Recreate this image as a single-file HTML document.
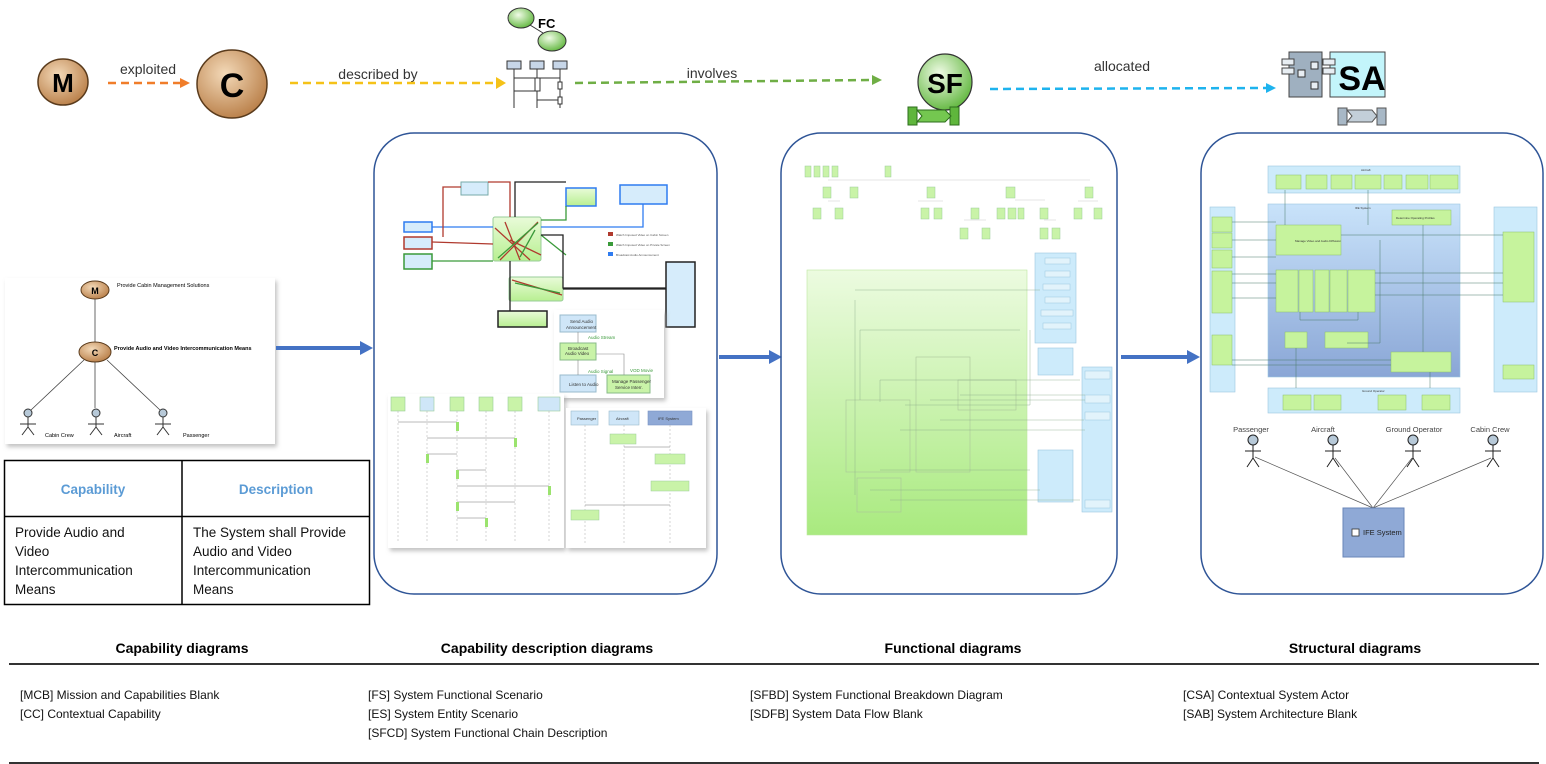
<!DOCTYPE html>
<html><head><meta charset="utf-8"><style>
html,body{margin:0;padding:0;background:#fff;width:1546px;height:764px;overflow:hidden}
svg{display:block}
text{font-family:"Liberation Sans",sans-serif}
</style></head><body>
<svg width="1546" height="764" viewBox="0 0 1546 764" xmlns="http://www.w3.org/2000/svg">
<defs>
<radialGradient id="br" cx="40%" cy="35%" r="70%"><stop offset="0" stop-color="#f3d9b8"/><stop offset="1" stop-color="#b87d46"/></radialGradient>
<radialGradient id="gr" cx="40%" cy="35%" r="70%"><stop offset="0" stop-color="#f0fbe6"/><stop offset="1" stop-color="#5fb63c"/></radialGradient>
<linearGradient id="gbox" x1="0" y1="0" x2="0" y2="1"><stop offset="0" stop-color="#e9fbd9"/><stop offset="1" stop-color="#b8ef91"/></linearGradient>
<linearGradient id="ifeg" x1="0" y1="0" x2="0" y2="1"><stop offset="0" stop-color="#c9e3fa"/><stop offset="1" stop-color="#8aa6d6"/></linearGradient>
<linearGradient id="bigg" x1="0" y1="0" x2="0" y2="1"><stop offset="0" stop-color="#ecfbe0"/><stop offset="1" stop-color="#a9ea7f"/></linearGradient>
<filter id="sh"><feDropShadow dx="2" dy="3" stdDeviation="2" flood-color="#999" flood-opacity=".6"/></filter>
</defs>

<!-- top row -->
<ellipse cx="63" cy="82" rx="25" ry="23" fill="url(#br)" stroke="#5a3b1c" stroke-width="1.5"/>
<text x="63" y="92" font-size="26" font-weight="bold" text-anchor="middle">M</text>
<text x="148" y="74" font-size="14" text-anchor="middle" fill="#333">exploited</text>
<line x1="108" y1="83" x2="182" y2="83" stroke="#f07d2a" stroke-width="2.5" stroke-dasharray="8,5"/>
<polygon points="180,78 190,83 180,88" fill="#f07d2a"/>
<ellipse cx="232" cy="84" rx="35" ry="34" fill="url(#br)" stroke="#5a3b1c" stroke-width="1.5"/>
<text x="232" y="97" font-size="34" font-weight="bold" text-anchor="middle">C</text>
<text x="378" y="79" font-size="14" text-anchor="middle" fill="#333">described by</text>
<line x1="290" y1="83" x2="497" y2="83" stroke="#f5c218" stroke-width="2.5" stroke-dasharray="8,5"/>
<polygon points="496,77 506,83 496,89" fill="#f5c218"/>
<ellipse cx="521" cy="18" rx="13" ry="10" fill="url(#gr)" stroke="#333"/>
<ellipse cx="552" cy="41" rx="14" ry="10" fill="url(#gr)" stroke="#333"/>
<line x1="530" y1="25" x2="543" y2="33" stroke="#333"/>
<text x="538" y="28" font-size="13" font-weight="bold">FC</text>
<g stroke="#333" fill="#c7d6e8">
<rect x="507" y="61" width="14" height="8"/><rect x="530" y="61" width="14" height="8"/><rect x="553" y="61" width="14" height="8"/>
<line x1="514" y1="69" x2="514" y2="108"/><line x1="537" y1="69" x2="537" y2="108"/><line x1="560" y1="69" x2="560" y2="108"/>
<line x1="514" y1="78" x2="560" y2="78"/><line x1="514" y1="91" x2="537" y2="91"/><line x1="537" y1="100" x2="560" y2="100"/>
<rect x="535" y="78" width="5" height="13" fill="#fff"/><rect x="558" y="82" width="4" height="7" fill="#fff"/><rect x="558" y="97" width="4" height="7" fill="#fff"/>
</g>
<text x="712" y="78" font-size="14" text-anchor="middle" fill="#333">involves</text>
<line x1="575" y1="83" x2="872" y2="80" stroke="#6fae45" stroke-width="2.5" stroke-dasharray="8,5"/>
<polygon points="872,75 882,80 872,85" fill="#6fae45"/>
<ellipse cx="945" cy="82" rx="27" ry="28" fill="url(#gr)" stroke="#333" stroke-width="1.2"/>
<text x="945" y="93" font-size="28" font-weight="bold" text-anchor="middle">SF</text>
<rect x="908" y="107" width="9" height="18" fill="#5fb63c" stroke="#2d6e1c"/><rect x="950" y="107" width="9" height="18" fill="#5fb63c" stroke="#2d6e1c"/>
<polygon points="917,110 945,110 951,116 945,122 917,122 922,116" fill="#74c750" stroke="#2d6e1c"/>
<text x="1122" y="71" font-size="14" text-anchor="middle" fill="#333">allocated</text>
<line x1="990" y1="89" x2="1267" y2="88" stroke="#1eb3ee" stroke-width="2.5" stroke-dasharray="8,5"/>
<polygon points="1266,83 1276,88 1266,93" fill="#1eb3ee"/>
<rect x="1289" y="52" width="33" height="45" fill="#9fb0c0" stroke="#444"/>
<rect x="1282" y="59" width="12" height="6" fill="#e8eef3" stroke="#444"/><rect x="1282" y="68" width="12" height="6" fill="#e8eef3" stroke="#444"/>
<g fill="#e8eef3" stroke="#333"><rect x="1311" y="62" width="7" height="7"/><rect x="1298" y="70" width="7" height="7"/><rect x="1311" y="82" width="7" height="7"/></g>
<rect x="1330" y="52" width="55" height="45" fill="#c3f5fb" stroke="#444"/>
<rect x="1323" y="59" width="12" height="6" fill="#e8eef3" stroke="#444"/><rect x="1323" y="68" width="12" height="6" fill="#e8eef3" stroke="#444"/>
<text x="1362" y="90" font-size="34" font-weight="bold" text-anchor="middle">SA</text>
<rect x="1338" y="108" width="9" height="17" fill="#a8b8c6" stroke="#555"/><rect x="1377" y="108" width="9" height="17" fill="#a8b8c6" stroke="#555"/>
<polygon points="1347,110 1372,110 1377,116 1372,122 1347,122 1352,116" fill="#c3cfd9" stroke="#555"/>

<!-- capability image -->
<g filter="url(#sh)"><rect x="5" y="278" width="270" height="166" fill="#fff"/></g>
<ellipse cx="95" cy="290" rx="14" ry="9" fill="url(#br)" stroke="#5a3b1c"/><text x="95" y="294" font-size="9" font-weight="bold" text-anchor="middle">M</text>
<text x="117" y="287" font-size="5.5">Provide Cabin Management Solutions</text>
<line x1="95" y1="299" x2="95" y2="342" stroke="#444" stroke-width=".8"/>
<ellipse cx="95" cy="352" rx="16" ry="10" fill="url(#br)" stroke="#5a3b1c"/><text x="95" y="356" font-size="9" font-weight="bold" text-anchor="middle">C</text>
<text x="114" y="350" font-size="5.5" font-weight="bold">Provide Audio and Video Intercommunication Means</text>
<g stroke="#444" stroke-width=".8"><line x1="84" y1="360" x2="31" y2="410"/><line x1="95" y1="362" x2="95" y2="408"/><line x1="107" y1="360" x2="160" y2="410"/></g>
<g stroke="#333" fill="#b7c9d8">
<circle cx="28" cy="413" r="4"/><circle cx="96" cy="413" r="4"/><circle cx="163" cy="413" r="4"/>
<path d="M28 417v10M20 424h16M28 427l-6 8M28 427l6 8M96 417v10M88 424h16M96 427l-6 8M96 427l6 8M163 417v10M155 424h16M163 427l-6 8M163 427l6 8" fill="none"/>
</g>
<text x="45" y="437" font-size="5.5">Cabin Crew</text><text x="114" y="437" font-size="5.5">Aircraft</text><text x="183" y="437" font-size="5.5">Passenger</text>

<!-- table -->
<rect x="4.5" y="460.5" width="365" height="144" fill="#fff" stroke="#000" stroke-width="1.5"/>
<line x1="182" y1="460" x2="182" y2="605" stroke="#000" stroke-width="1.5"/>
<line x1="4" y1="516.5" x2="370" y2="516.5" stroke="#000" stroke-width="1.5"/>
<text x="93" y="494" font-size="13.5" font-weight="bold" fill="#5b9bd5" text-anchor="middle">Capability</text>
<text x="276" y="494" font-size="13.5" font-weight="bold" fill="#5b9bd5" text-anchor="middle">Description</text>
<g font-size="13.5" fill="#111"><text x="15" y="537">Provide Audio and</text><text x="15" y="556">Video</text><text x="15" y="575">Intercommunication</text><text x="15" y="594">Means</text>
<text x="193" y="537">The System shall Provide</text><text x="193" y="556">Audio and Video</text><text x="193" y="575">Intercommunication</text><text x="193" y="594">Means</text></g>

<!-- blue arrows -->
<g fill="#4472c4"><rect x="276" y="346" width="86" height="4"/><polygon points="360,341 373,348 360,355"/>
<rect x="719" y="355" width="52" height="4"/><polygon points="769,350 782,357 769,364"/>
<rect x="1121" y="355" width="68" height="4"/><polygon points="1187,350 1200,357 1187,364"/></g>

<!-- panels -->
<g fill="none" stroke="#2f5597" stroke-width="1.5">
<rect x="374" y="133" width="343" height="461" rx="40"/>
<rect x="781" y="133" width="336" height="461" rx="40"/>
<rect x="1201" y="133" width="342" height="461" rx="40"/>
</g>

<!-- panel 1 content -->
<g stroke-width="1">
<rect x="461" y="182" width="27" height="13" fill="#d6ecfb" stroke="#7aa"/>
<rect x="404" y="222" width="28" height="10" fill="#d6ecfb" stroke="#2f7cf0" stroke-width="1.5"/>
<rect x="404" y="237" width="28" height="12" fill="#d6ecfb" stroke="#b03a2e" stroke-width="1.5"/>
<rect x="404" y="254" width="28" height="15" fill="#d6ecfb" stroke="#3a9a3a" stroke-width="1.5"/>
<rect x="493" y="217" width="48" height="44" fill="url(#gbox)" stroke="#9c9" rx="2"/>
<rect x="509" y="277" width="54" height="24" fill="url(#gbox)" stroke="#9c9" rx="2"/>
<rect x="498" y="311" width="49" height="16" fill="url(#gbox)" stroke="#222" stroke-width="1.5"/>
<rect x="566" y="188" width="30" height="18" fill="url(#gbox)" stroke="#2f7cf0" stroke-width="1.5"/>
<rect x="620" y="185" width="47" height="19" fill="#d6ecfb" stroke="#2f7cf0" stroke-width="1.5"/>
<rect x="666" y="262" width="29" height="65" fill="#d6ecfb" stroke="#222" stroke-width="1.5"/>
<rect x="608" y="232" width="5" height="4" fill="#b03a2e"/><rect x="608" y="242" width="5" height="4" fill="#3a9a3a"/><rect x="608" y="252" width="5" height="4" fill="#2f7cf0"/>
</g>
<g stroke-width="1.3" fill="none">
<path d="M432 227H493" stroke="#2f7cf0"/>
<path d="M432 242 L493 244M443 237V187H461M488 182H510V217" stroke="#b03a2e"/>
<path d="M432 261H493M541 220H566V206M541 235L566 255" stroke="#3a9a3a"/>
<path d="M515 217V182H566M541 235L563 235V288H666M510 261V311M563 289H666" stroke="#222"/>
<path d="M541 227H643V204" stroke="#2f7cf0"/>
<path d="M495 228L530 260M500 260L538 222M510 240L541 255M505 222L520 260M512 280L562 295" stroke="#b03a2e"/>
<path d="M498 258L538 223M520 257L535 230M515 283L560 293" stroke="#3a9a3a"/>
</g>
<g font-size="3" fill="#555"><text x="616" y="236">Watch Imposed Video on Cabin Screen</text><text x="616" y="246">Watch Imposed Video on Private Screen</text><text x="616" y="256">Broadcast Audio Announcement</text></g>
<g filter="url(#sh)"><rect x="554" y="310" width="110" height="88" fill="#fff"/></g>
<g stroke="#8b8" fill="#c9f3a8"><rect x="560" y="315" width="36" height="17" fill="#cfe6f8" stroke="#9bc"/><rect x="560" y="343" width="36" height="17"/><rect x="560" y="375" width="36" height="17" fill="#cfe6f8" stroke="#9bc"/><rect x="607" y="375" width="43" height="18"/></g>
<path d="M578 332V343M578 360V375M596 354H624V375" stroke="#888" fill="none" stroke-width=".6"/>
<g font-size="4.5" fill="#333"><text x="570" y="323">Send Audio</text><text x="566" y="329">Announcement</text><text x="568" y="350">Broadcast</text><text x="565" y="355">Audio Video</text><text x="569" y="386">Listen to Audio</text><text x="612" y="383">Manage Passenger</text><text x="615" y="389">Service Interr.</text>
<text x="588" y="339" fill="#3a9a3a">Audio Stream</text><text x="588" y="373" fill="#3a9a3a">Audio Signal</text><text x="630" y="372" fill="#3a9a3a">VOD Movie</text></g>
<g filter="url(#sh)"><rect x="388" y="394" width="176" height="154" fill="#fff"/></g>
<g fill="#c9f3a8" stroke="#9c9" stroke-width=".6">
<rect x="391" y="397" width="14" height="14"/><rect x="420" y="397" width="14" height="14" fill="#cfe6f8"/><rect x="450" y="397" width="14" height="14"/><rect x="479" y="397" width="14" height="14"/><rect x="508" y="397" width="14" height="14"/><rect x="538" y="397" width="22" height="14" fill="#cfe6f8"/>
</g>
<g stroke="#aaa" stroke-width=".5" stroke-dasharray="2,2"><line x1="398" y1="411" x2="398" y2="543"/><line x1="427" y1="411" x2="427" y2="543"/><line x1="457" y1="411" x2="457" y2="543"/><line x1="486" y1="411" x2="486" y2="543"/><line x1="515" y1="411" x2="515" y2="543"/><line x1="549" y1="411" x2="549" y2="543"/></g>
<g stroke="#777" stroke-width=".5"><line x1="398" y1="422" x2="457" y2="422"/><line x1="427" y1="438" x2="515" y2="438"/><line x1="427" y1="454" x2="457" y2="454"/><line x1="457" y1="470" x2="486" y2="470"/><line x1="457" y1="486" x2="549" y2="486"/><line x1="457" y1="502" x2="515" y2="502"/><line x1="457" y1="518" x2="486" y2="518"/></g>
<g fill="#9be36e"><rect x="456" y="422" width="3" height="9"/><rect x="514" y="438" width="3" height="9"/><rect x="426" y="454" width="3" height="9"/><rect x="456" y="470" width="3" height="9"/><rect x="548" y="486" width="3" height="9"/><rect x="456" y="502" width="3" height="9"/><rect x="485" y="518" width="3" height="9"/></g>
<g filter="url(#sh)"><rect x="566" y="408" width="140" height="140" fill="#fff"/></g>
<rect x="571" y="411" width="27" height="14" fill="#cfe6f8" stroke="#9bc" stroke-width=".6"/><rect x="609" y="411" width="30" height="14" fill="#cfe6f8" stroke="#9bc" stroke-width=".6"/><rect x="648" y="411" width="44" height="14" fill="#8fa9d6" stroke="#7893c4" stroke-width=".6"/>
<g font-size="4" fill="#333"><text x="577" y="420">Passenger</text><text x="616" y="420">Aircraft</text><text x="658" y="420">IFE System</text></g>
<g stroke="#aaa" stroke-width=".5" stroke-dasharray="2,2"><line x1="585" y1="425" x2="585" y2="543"/><line x1="624" y1="425" x2="624" y2="543"/><line x1="670" y1="425" x2="670" y2="543"/></g>
<g fill="#c9f3a8" stroke="#9c9" stroke-width=".5"><rect x="610" y="434" width="26" height="10"/><rect x="655" y="454" width="30" height="10"/><rect x="651" y="481" width="38" height="10"/><rect x="571" y="510" width="28" height="10"/></g>
<g stroke="#777" stroke-width=".5"><line x1="624" y1="447" x2="670" y2="447"/><line x1="585" y1="505" x2="670" y2="505"/></g>

<!-- panel 2 content -->
<g fill="#c9f3a8" stroke="#9c9" stroke-width=".5">
<rect x="805" y="166" width="6" height="11"/><rect x="814" y="166" width="6" height="11"/><rect x="823" y="166" width="6" height="11"/><rect x="832" y="166" width="6" height="11"/><rect x="885" y="166" width="6" height="11"/>
<rect x="823" y="187" width="8" height="11"/><rect x="850" y="187" width="8" height="11"/><rect x="927" y="187" width="8" height="11"/><rect x="1006" y="187" width="9" height="11"/><rect x="1085" y="187" width="8" height="11"/>
<rect x="813" y="208" width="8" height="11"/><rect x="835" y="208" width="8" height="11"/><rect x="921" y="208" width="8" height="11"/><rect x="934" y="208" width="8" height="11"/><rect x="971" y="208" width="8" height="11"/><rect x="997" y="208" width="8" height="11"/><rect x="1008" y="208" width="8" height="11"/><rect x="1018" y="208" width="6" height="11"/><rect x="1040" y="208" width="8" height="11"/><rect x="1074" y="208" width="8" height="11"/><rect x="1094" y="208" width="8" height="11"/>
<rect x="960" y="228" width="8" height="11"/><rect x="982" y="228" width="8" height="11"/><rect x="1040" y="228" width="8" height="11"/><rect x="1052" y="228" width="8" height="11"/>
</g>
<g stroke="#ccc" stroke-width=".5" fill="none"><path d="M828 180H1090M828 201H840M1015 200H1045M918 201H943M1078 201H1098M964 220H986M1044 220H1056"/></g>
<rect x="807" y="270" width="220" height="265" fill="url(#bigg)" stroke="#bde6a0" stroke-width=".6"/>
<g fill="#cdebfb" stroke="#9cc7e0" stroke-width=".6">
<rect x="1035" y="253" width="41" height="90"/><rect x="1038" y="348" width="35" height="27"/><rect x="1082" y="367" width="30" height="145"/><rect x="1038" y="450" width="35" height="52"/>
</g>
<g fill="#e2f3fb" stroke="#9cc7e0" stroke-width=".5"><rect x="1045" y="258" width="25" height="6"/><rect x="1045" y="271" width="25" height="6"/><rect x="1043" y="284" width="27" height="6"/><rect x="1045" y="297" width="25" height="6"/><rect x="1041" y="310" width="32" height="6"/><rect x="1043" y="323" width="28" height="6"/><rect x="1085" y="371" width="25" height="8"/><rect x="1085" y="395" width="25" height="8"/><rect x="1085" y="412" width="25" height="8"/><rect x="1085" y="500" width="25" height="8"/></g>
<g fill="none" stroke="#aac59a" stroke-width=".6">
<rect x="846" y="400" width="64" height="72"/><rect x="916" y="357" width="54" height="115"/><rect x="857" y="478" width="44" height="34"/><rect x="958" y="380" width="58" height="30"/>
</g>
<g stroke="#8a8" stroke-width=".4" fill="none"><path d="M860 400V330H1020M880 402V380H1080M905 405H1030V330M900 430H1085M930 400H1085M940 420H1084M960 395H1085M890 500H1080M870 490H1040M880 470H1030M855 290H1040M855 300V495"/></g>

<!-- panel 3 content -->
<rect x="1268" y="166" width="192" height="27" fill="#cdebfb" stroke="#9cc7e0" stroke-width=".6"/>
<rect x="1268" y="204" width="192" height="173" fill="url(#ifeg)" stroke="#9cc7e0" stroke-width=".6"/>
<rect x="1210" y="207" width="25" height="185" fill="#cdebfb" stroke="#9cc7e0" stroke-width=".6"/>
<rect x="1494" y="207" width="43" height="185" fill="#cdebfb" stroke="#9cc7e0" stroke-width=".6"/>
<rect x="1268" y="388" width="192" height="25" fill="#cdebfb" stroke="#9cc7e0" stroke-width=".6"/>
<g fill="#c6f39d" stroke="#8bc06a" stroke-width=".5">
<rect x="1276" y="175" width="25" height="14"/><rect x="1306" y="175" width="21" height="14"/><rect x="1331" y="175" width="21" height="14"/><rect x="1355" y="175" width="26" height="14"/><rect x="1384" y="175" width="18" height="14"/><rect x="1406" y="175" width="22" height="14"/><rect x="1430" y="175" width="28" height="14"/>
<rect x="1392" y="210" width="59" height="15"/><rect x="1276" y="225" width="65" height="30"/>
<rect x="1276" y="270" width="22" height="42"/><rect x="1299" y="270" width="14" height="42"/><rect x="1315" y="270" width="14" height="42"/><rect x="1330" y="270" width="17" height="42"/><rect x="1348" y="270" width="27" height="42"/>
<rect x="1285" y="332" width="22" height="16"/><rect x="1325" y="332" width="43" height="16"/><rect x="1391" y="352" width="60" height="20"/>
<rect x="1212" y="217" width="20" height="15"/><rect x="1212" y="233" width="20" height="15"/><rect x="1212" y="250" width="20" height="18"/><rect x="1212" y="271" width="20" height="42"/><rect x="1212" y="335" width="20" height="30"/>
<rect x="1503" y="232" width="31" height="70"/><rect x="1503" y="365" width="31" height="14"/>
<rect x="1283" y="395" width="28" height="15"/><rect x="1314" y="395" width="27" height="15"/><rect x="1378" y="395" width="28" height="15"/><rect x="1422" y="395" width="28" height="15"/>
</g>
<g stroke="#4a7a6a" stroke-width=".5" fill="none"><path d="M1232 222H1276M1232 240H1276M1232 257H1276M1232 274H1276M1232 283H1276M1232 298H1276M1232 360H1391M1232 365H1391M1341 235H1503M1375 273H1503M1375 283H1503M1375 295H1503M1423 225V352M1285 190V225M1368 190V225M1300 312V320H1358V312M1296 348V388M1430 372V388M1347 343H1380V240"/></g>
<g font-size="3" fill="#333"><text x="1361" y="171">Aircraft</text><text x="1355" y="209">IFE System</text><text x="1362" y="392">Ground Operator</text><text x="1295" y="242">Manage Video and Audio Diffusion</text><text x="1396" y="219">Determine Operating Profiles</text></g>
<g font-size="7.5" fill="#444" text-anchor="middle"><text x="1251" y="432">Passenger</text><text x="1323" y="432">Aircraft</text><text x="1414" y="432">Ground Operator</text><text x="1490" y="432">Cabin Crew</text></g>
<g stroke="#222" stroke-width="1" fill="#b7c9d8">
<circle cx="1253" cy="440" r="5"/><circle cx="1333" cy="440" r="5"/><circle cx="1413" cy="440" r="5"/><circle cx="1493" cy="440" r="5"/>
<path fill="none" d="M1253 445v13M1245 451h16M1253 458l-6 9M1253 458l6 9M1333 445v13M1325 451h16M1333 458l-6 9M1333 458l6 9M1413 445v13M1405 451h16M1413 458l-6 9M1413 458l6 9M1493 445v13M1485 451h16M1493 458l-6 9M1493 458l6 9"/>
<path fill="none" stroke="#555" stroke-width=".7" d="M1255 457L1373 508M1335 458L1373 508M1412 458L1373 508M1491 458L1373 508"/>
</g>
<rect x="1343" y="508" width="61" height="49" fill="#8fa9d6" stroke="#6a86b8"/>
<rect x="1352" y="529" width="7" height="7" fill="#fff" stroke="#333" stroke-width=".8"/>
<text x="1363" y="535" font-size="7.5" fill="#222">IFE System</text>

<!-- bottom legend -->
<g font-size="14" font-weight="bold" text-anchor="middle" fill="#000">
<text x="182" y="653">Capability diagrams</text><text x="547" y="653">Capability description diagrams</text><text x="953" y="653">Functional diagrams</text><text x="1355" y="653">Structural diagrams</text>
</g>
<rect x="9" y="663" width="1530" height="2" fill="#333"/>
<g font-size="12" fill="#111">
<text x="20" y="699">[MCB] Mission and Capabilities Blank</text><text x="20" y="718">[CC] Contextual Capability</text>
<text x="368" y="699">[FS] System Functional Scenario</text><text x="368" y="718">[ES] System Entity Scenario</text><text x="368" y="737">[SFCD] System Functional Chain Description</text>
<text x="750" y="699">[SFBD] System Functional Breakdown Diagram</text><text x="750" y="718">[SDFB] System Data Flow Blank</text>
<text x="1183" y="699">[CSA] Contextual System Actor</text><text x="1183" y="718">[SAB] System Architecture Blank</text>
</g>
<rect x="9" y="762" width="1530" height="2" fill="#333"/>
</svg>
</body></html>
